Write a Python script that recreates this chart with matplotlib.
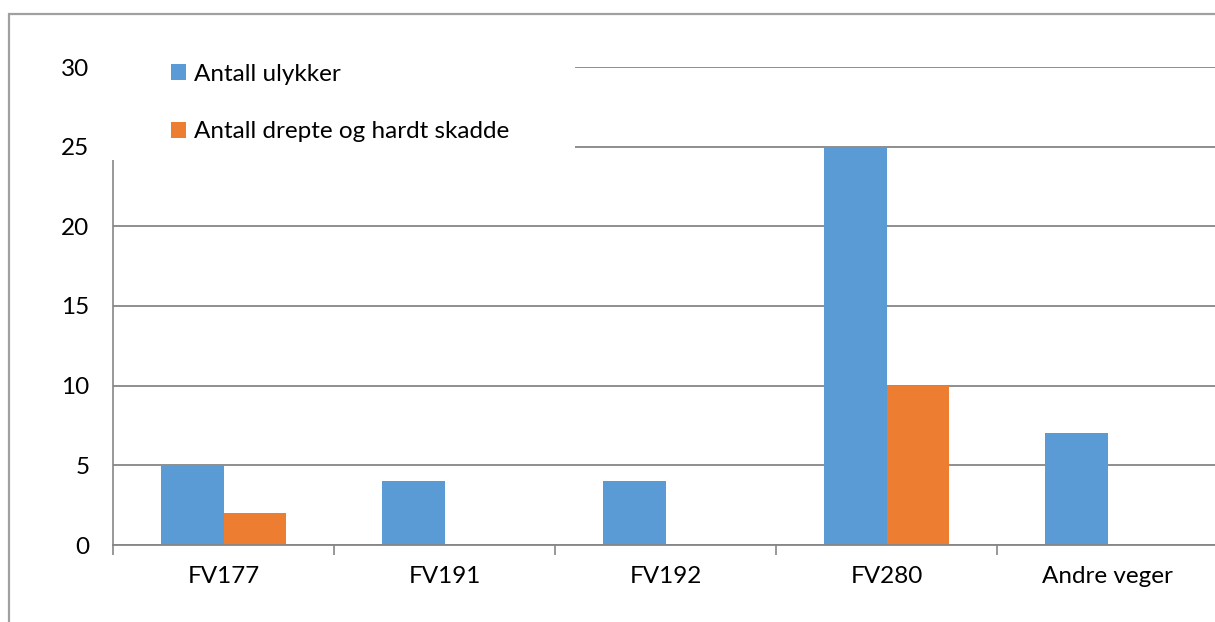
import numpy as np
import matplotlib.pyplot as plt
from matplotlib.patches import Rectangle

categories = ['FV177', 'FV191', 'FV192', 'FV280', 'Andre veger']
ulykker = [5, 4, 4, 25, 7]
drepte = [2, 0, 0, 10, 0]
labels = ['Antall ulykker', 'Antall drepte og hardt skadde']

blue = '#5B9BD5'
orange = '#ED7D31'
grid_col = '#868686'

plt.rcParams['font.family'] = ['Lato', 'DejaVu Sans']
fs = 17.5

W, H = 1215, 622
fig = plt.figure(figsize=(W / 100, H / 100), dpi=100)

# outer chart frame (cut off on right and bottom)
fig.patches.append(Rectangle((8.5 / W, -0.1), 1.2, 1 - 13.5 / H + 0.1,
                             transform=fig.transFigure, fill=False,
                             edgecolor='#a0a0a0', linewidth=1.6))

ax = fig.add_axes([113 / W, 1 - 545 / H, 1105 / W, (545 - 67) / H])

x = np.arange(len(categories))
w = 0.285
ax.bar(x - w / 2, ulykker, w, color=blue, label=labels[0], zorder=2)
ax.bar(x + w / 2, drepte, w, color=orange, label=labels[1], zorder=2)

ax.set_xlim(-0.5, len(categories) - 0.5)
ax.set_ylim(0, 30)
ax.set_yticks(range(0, 31, 5))
ax.yaxis.grid(True, color=grid_col, linewidth=1.3)
ax.set_axisbelow(True)
ax.tick_params(axis='y', length=0, pad=17, labelsize=fs)

ax.set_xticks(x)
ax.set_xticklabels(categories)
ax.set_xticks(np.arange(-0.5, len(categories), 1), minor=True)
ax.tick_params(axis='x', which='major', length=0, pad=15, labelsize=fs)
ax.tick_params(axis='x', which='minor', length=7, width=1.2, color=grid_col)

for s in ['top', 'right']:
    ax.spines[s].set_visible(False)
ax.spines['left'].set_color(grid_col)
ax.spines['bottom'].set_color(grid_col)
ax.spines['left'].set_linewidth(1.2)
ax.spines['bottom'].set_linewidth(1.3)

# white area behind the legend hides the grid and the top of the axis
ax.add_patch(Rectangle((-3 / 1105, (545 - 160) / 478), 465 / 1105, 115 / 478,
                       transform=ax.transAxes, facecolor='white', edgecolor='none',
                       clip_on=False, zorder=4))

leg = ax.legend(loc='upper left', bbox_to_anchor=(48 / 1105, 1.027),
                frameon=False, fontsize=fs, handlelength=0.62, handleheight=0.62,
                handletextpad=0.32, labelspacing=1.5, borderaxespad=0)
leg.set_zorder(5)

plt.savefig('out.png', dpi=100)
